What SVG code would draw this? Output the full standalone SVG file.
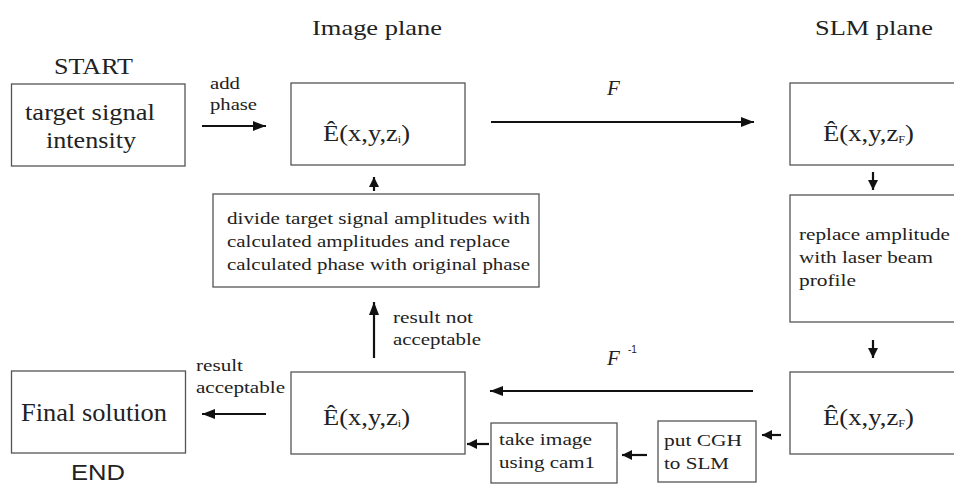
<svg xmlns="http://www.w3.org/2000/svg" width="954" height="484" viewBox="0 0 954 484">
  <defs>
    <marker id="ah" markerUnits="userSpaceOnUse" markerWidth="13" markerHeight="10" refX="13" refY="5" orient="auto">
      <path d="M0,0 L13,5 L0,10 z" fill="#111"/>
    </marker>
    <marker id="ahs" markerUnits="userSpaceOnUse" markerWidth="10" markerHeight="10" refX="10" refY="5" orient="auto">
      <path d="M0,0 L10,5 L0,10 z" fill="#111"/>
    </marker>
  </defs>
  <style>
    .box { fill: #fff; stroke: #555; stroke-width: 1.3; }
    text { font-family: "Liberation Serif", serif; fill: #222; }
    text.s { font-family: "Liberation Sans", sans-serif; }
    .c { stroke: #111; stroke-width: 2.2; fill: none; marker-end: url(#ah); }
    .cs { stroke: #111; stroke-width: 2.2; fill: none; marker-end: url(#ahs); }
  </style>
  <rect width="954" height="484" fill="#fff"/>

  <g font-family="Liberation Serif, serif">
  <!-- headings -->
  <text x="312" y="35" font-size="21" textLength="130" lengthAdjust="spacingAndGlyphs">Image plane</text>
  <text x="815" y="35" font-size="21" textLength="118" lengthAdjust="spacingAndGlyphs">SLM plane</text>
  <text x="54" y="74" font-size="24" textLength="79" lengthAdjust="spacingAndGlyphs">START</text>
  <text class="s" x="71" y="480" font-size="22" textLength="54" lengthAdjust="spacingAndGlyphs">END</text>

  <g id="start">
    <rect class="box" x="11.5" y="84" width="173.5" height="82"/>
    <text x="25" y="120" font-size="23" textLength="130" lengthAdjust="spacingAndGlyphs">target signal</text>
    <text x="46" y="148" font-size="23" textLength="90" lengthAdjust="spacingAndGlyphs">intensity</text>
  </g>

  <g id="e-image-top">
    <rect class="box" x="291" y="83" width="174" height="82"/>
    <text x="323" y="141" font-size="24" textLength="87" lengthAdjust="spacingAndGlyphs">Ê(x,y,z<tspan font-size="11" dy="2">i</tspan><tspan dy="-2">)</tspan></text>
  </g>

  <g id="e-slm-top">
    <rect class="box" x="790" y="83" width="180" height="82"/>
    <text x="823" y="141" font-size="24" textLength="91" lengthAdjust="spacingAndGlyphs">Ê(x,y,z<tspan font-size="11" dy="2">F</tspan><tspan dy="-2">)</tspan></text>
  </g>

  <g id="divide">
    <rect class="box" x="213" y="194" width="326" height="93"/>
    <text x="227" y="224" font-size="17" textLength="303" lengthAdjust="spacingAndGlyphs">divide target signal amplitudes with</text>
    <text x="227" y="247" font-size="17" textLength="283" lengthAdjust="spacingAndGlyphs">calculated amplitudes and replace</text>
    <text x="227" y="270" font-size="17" textLength="303" lengthAdjust="spacingAndGlyphs">calculated phase with original phase</text>
  </g>

  <g id="replace">
    <rect class="box" x="790" y="195" width="180" height="127"/>
    <text x="799" y="240" font-size="17" textLength="151" lengthAdjust="spacingAndGlyphs">replace amplitude</text>
    <text x="799" y="263" font-size="17" textLength="134" lengthAdjust="spacingAndGlyphs">with laser beam</text>
    <text x="799" y="286" font-size="17" textLength="57" lengthAdjust="spacingAndGlyphs">profile</text>
  </g>

  <g id="final">
    <rect class="box" x="11.5" y="371" width="174" height="82"/>
    <text x="21" y="421" font-size="25" textLength="146" lengthAdjust="spacingAndGlyphs">Final solution</text>
  </g>

  <g id="e-image-bottom">
    <rect class="box" x="291" y="372" width="174" height="82"/>
    <text x="323" y="425" font-size="24" textLength="87" lengthAdjust="spacingAndGlyphs">Ê(x,y,z<tspan font-size="11" dy="2">i</tspan><tspan dy="-2">)</tspan></text>
  </g>

  <g id="e-slm-bottom">
    <rect class="box" x="790" y="372" width="180" height="82"/>
    <text x="823" y="425" font-size="24" textLength="91" lengthAdjust="spacingAndGlyphs">Ê(x,y,z<tspan font-size="11" dy="2">F</tspan><tspan dy="-2">)</tspan></text>
  </g>

  <g id="take-image">
    <rect class="box" x="491" y="423" width="126" height="60"/>
    <text x="499" y="445" font-size="17" textLength="93" lengthAdjust="spacingAndGlyphs">take image</text>
    <text x="499" y="468" font-size="17" textLength="96" lengthAdjust="spacingAndGlyphs">using cam1</text>
  </g>

  <g id="put-cgh">
    <rect class="box" x="658" y="421" width="98" height="61"/>
    <text x="664" y="446" font-size="17" textLength="78" lengthAdjust="spacingAndGlyphs">put CGH</text>
    <text x="664" y="469" font-size="17" textLength="65" lengthAdjust="spacingAndGlyphs">to SLM</text>
  </g>

  <g id="connectors">
    <line class="c" x1="202" y1="126" x2="266" y2="126"/>
    <text x="210" y="89" font-size="16" textLength="30" lengthAdjust="spacingAndGlyphs">add</text>
    <text x="210" y="110" font-size="16" textLength="47" lengthAdjust="spacingAndGlyphs">phase</text>

    <line class="c" x1="491" y1="122" x2="754" y2="122"/>
    <text x="607" y="95" font-size="21" font-style="italic">F</text>

    <line class="cs" x1="873" y1="172" x2="873" y2="190"/>
    <line class="cs" x1="873" y1="340" x2="873" y2="358"/>
    <line class="cs" x1="374" y1="191" x2="374" y2="177"/>

    <line class="c" x1="753" y1="391" x2="490" y2="391"/>
    <text x="607" y="365" font-size="21" font-style="italic">F</text>
    <text class="s" x="628" y="353" font-size="10">-1</text>

    <line class="c" x1="374" y1="358" x2="374" y2="302"/>
    <text x="393" y="323" font-size="17" textLength="80" lengthAdjust="spacingAndGlyphs">result not</text>
    <text x="393" y="345" font-size="17" textLength="88" lengthAdjust="spacingAndGlyphs">acceptable</text>

    <line class="c" x1="266" y1="414" x2="202" y2="414"/>
    <text x="196" y="371" font-size="17" textLength="47" lengthAdjust="spacingAndGlyphs">result</text>
    <text x="196" y="393" font-size="17" textLength="89" lengthAdjust="spacingAndGlyphs">acceptable</text>

    <line class="cs" x1="781" y1="435" x2="762" y2="435"/>
    <line class="cs" x1="647" y1="455" x2="622" y2="455"/>
    <line class="cs" x1="489" y1="444" x2="467" y2="444"/>
  </g>
  </g>
</svg>
